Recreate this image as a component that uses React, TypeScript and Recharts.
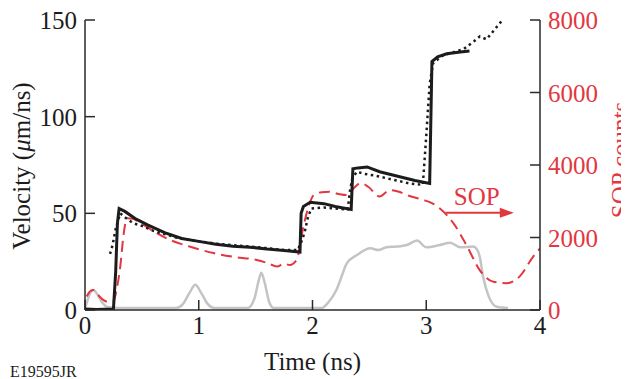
import { LineChart, Line, XAxis, YAxis, ReferenceLine } from "recharts";

const font = "'Liberation Serif', 'Times New Roman', serif";
const red = "#e2373f";
const ink = "#1c1c1c";
const frame = "#2a2a2a";
const grey = "#c4c4c4";

// time (ns) / velocity (um/ns), solid trace
const solidT = [0, 0.1, 0.25, 0.27, 0.285, 0.3, 0.35, 0.45, 0.55, 0.7, 0.85, 1.0, 1.15, 1.3, 1.45, 1.6, 1.75, 1.89, 1.9, 1.92, 1.98, 2.1, 2.2, 2.34, 2.355, 2.4, 2.48, 2.59, 2.74, 2.9, 3.03, 3.05, 3.1, 3.18, 3.3, 3.38];
const solidV = [0.5, 0.3, 0.5, 20, 45, 52.5, 51, 47, 44, 40, 37, 35.5, 34, 33, 32.5, 31.5, 30.8, 30, 50, 53.5, 55.7, 55, 53.5, 52, 73, 73.5, 74, 71.5, 69.3, 67, 65.5, 128.5, 131, 132.5, 133.5, 134];

// dotted trace
const dotT = [0.22, 0.24, 0.27, 0.31, 0.35, 0.42, 0.5, 0.6, 0.8, 1.0, 1.2, 1.4, 1.6, 1.75, 1.87, 1.9, 1.93, 1.96, 1.99, 2.1, 2.2, 2.31, 2.33, 2.35, 2.39, 2.45, 2.55, 2.7, 2.85, 2.97, 3.0, 3.03, 3.06, 3.14, 3.25, 3.33, 3.42, 3.47, 3.53, 3.6, 3.67];
const dotV = [29, 33, 42, 50, 48, 45, 43.5, 41, 37.5, 35.5, 34, 33, 32, 31, 31, 35, 40, 48, 52.5, 53, 52.5, 52, 62, 68, 71.5, 70.5, 69.5, 67.5, 65.5, 64.7, 90, 117, 127.6, 131.5, 133.5, 135, 139, 141.5, 140, 145, 150];

// SOP counts (right axis)
const sopT = [0.015, 0.04, 0.07, 0.11, 0.16, 0.21, 0.25, 0.28, 0.31, 0.34, 0.37, 0.42, 0.47, 0.55, 0.63, 0.75, 0.92, 1.13, 1.3, 1.51, 1.6, 1.69, 1.75, 1.8, 1.86, 1.92, 1.97, 2.01, 2.08, 2.15, 2.23, 2.3, 2.36, 2.42, 2.49, 2.59, 2.68, 2.76, 2.83, 2.97, 3.05, 3.12, 3.24, 3.36, 3.47, 3.59, 3.71, 3.82, 3.94, 4.0];
const sopV = [370, 500, 555, 430, 280, 220, 240, 600, 1200, 2100, 2530, 2520, 2440, 2280, 2120, 1930, 1750, 1570, 1470, 1380, 1300, 1200, 1280, 1240, 1380, 2300, 2900, 3170, 3250, 3260, 3200, 3170, 3350, 3500, 3400, 3130, 3310, 3260, 3170, 3040, 2950, 2800, 2390, 1750, 1100, 780, 740, 920, 1470, 1700];

// laser pulse shape (grey, left axis units)
const pulseT = [0, 0.015, 0.04, 0.073, 0.11, 0.15, 0.2, 0.3, 0.8, 0.86, 0.92, 0.97, 1.02, 1.08, 1.14, 1.43, 1.49, 1.53, 1.55, 1.58, 1.62, 1.66, 2.08, 2.14, 2.21, 2.26, 2.3, 2.39, 2.51, 2.58, 2.65, 2.74, 2.83, 2.92, 3.0, 3.12, 3.21, 3.3, 3.41, 3.45, 3.47, 3.5, 3.55, 3.62, 3.72];
const pulseV = [1, 3.6, 8, 10.3, 8, 4, 1.5, 1, 1, 3, 9, 13, 9, 3, 1, 1, 6, 16, 19.3, 14, 4, 1, 1, 4, 10.3, 18, 24, 28.4, 31.9, 31, 32.5, 32.8, 33.6, 35.9, 32.4, 33.6, 34.8, 32.4, 32.8, 31, 27.6, 17.2, 6.9, 1.7, 1];

const timeTicks = [0, 1, 2, 3, 4];
const velTicks = [0, 50, 100, 150];
const sopTicks = [0, 2000, 4000, 6000, 8000];

const rows = (ts: number[], vs: number[]) => ts.map((t, i) => ({ t, v: vs[i] }));

const LeftTick = ({ x, y, payload }: any) => (
  <g>
    <line x1={x + 8} x2={x + 18} y1={y} y2={y} stroke={frame} strokeWidth={1.5} />
    <text x={x} y={y + 9} textAnchor="end" fontSize={25} fontFamily={font} fill={ink}>{payload.value}</text>
  </g>
);

const RightTick = ({ x, y, payload }: any) => (
  <g>
    <line x1={x - 8} x2={x - 18} y1={y} y2={y} stroke={frame} strokeWidth={1.5} />
    <text x={x} y={y + 9} textAnchor="start" fontSize={25} fontFamily={font} fill={red}>{payload.value}</text>
  </g>
);

const BottomTick = ({ x, y, payload }: any) => (
  <g>
    <line x1={x} x2={x} y1={y - 8} y2={y - 18} stroke={frame} strokeWidth={1.5} />
    <text x={x} y={y + 16} textAnchor="middle" fontSize={25} fontFamily={font} fill={ink}>{payload.value}</text>
  </g>
);

const TopTick = ({ x, y }: any) => (
  <line x1={x} x2={x} y1={y} y2={y + 10} stroke={frame} strokeWidth={1.5} />
);

const VelocityTitle = ({ viewBox }: any) => {
  const cx = viewBox.x + 5;
  const cy = viewBox.y + viewBox.height / 2 + 1;
  return (
    <text transform={`translate(${cx},${cy}) rotate(-90)`} textAnchor="middle" fontSize={25} fontFamily={font} fill={ink}>
      Velocity (<tspan fontStyle="italic">μ</tspan>m/ns)
    </text>
  );
};

const SopTitle = ({ viewBox }: any) => {
  const cx = viewBox.x + viewBox.width;
  const cy = viewBox.y + viewBox.height / 2 - 5;
  return (
    <text transform={`translate(${cx},${cy}) rotate(-90)`} textAnchor="middle" fontSize={25} fontFamily={font} fill={red}>
      SOP counts
    </text>
  );
};

const TimeTitle = ({ viewBox }: any) => (
  <g>
    <text x={viewBox.x + viewBox.width / 2} y={viewBox.y + 60} textAnchor="middle" fontSize={25} fontFamily={font} fill={ink}>
      Time (ns)
    </text>
    <text x={2} y={viewBox.y + 67} fontSize={16} fontFamily={font} fill={ink}>E19595JR</text>
  </g>
);

const SopArrow = ({ x1, y1, x2, y2 }: any) => (
  <g>
    <line x1={x1} y1={y1} x2={x2 - 10} y2={y2} stroke={red} strokeWidth={2} />
    <polygon points={`${x2},${y2} ${x2 - 14},${y2 - 5} ${x2 - 14},${y2 + 5}`} fill={red} />
    <text x={(x1 + x2) / 2 - 3} y={y1 - 8} textAnchor="middle" fontSize={25} fontFamily={font} fill={red}>SOP</text>
  </g>
);

export default function App() {
  return (
    <LineChart width={621} height={371} margin={{ top: 12, right: 0, bottom: 0, left: 17 }}>
      <XAxis
        type="number" dataKey="t" domain={[0, 4]} ticks={timeTicks} allowDataOverflow
        height={69} tickSize={0} tickMargin={8} tickLine={false}
        axisLine={{ stroke: frame, strokeWidth: 1.5 }}
        tick={(p: any) => <BottomTick {...p} />}
        label={{ content: (p: any) => <TimeTitle {...p} /> }}
      />
      <XAxis
        xAxisId="top" orientation="top" type="number" dataKey="t" domain={[0, 4]} ticks={[1, 2, 3]}
        height={0} tickSize={0} tickMargin={0} tickLine={false}
        axisLine={{ stroke: frame, strokeWidth: 1.5 }}
        tick={(p: any) => <TopTick {...p} />}
      />
      <YAxis
        yAxisId="left" type="number" domain={[0, 150]} ticks={velTicks} allowDataOverflow
        width={60} tickSize={0} tickMargin={8} tickLine={false}
        axisLine={{ stroke: frame, strokeWidth: 1.5 }}
        tick={(p: any) => <LeftTick {...p} />}
        label={{ content: (p: any) => <VelocityTitle {...p} /> }}
      />
      <YAxis
        yAxisId="right" orientation="right" type="number" domain={[0, 8000]} ticks={sopTicks} allowDataOverflow
        width={89} tickSize={0} tickMargin={8} tickLine={false}
        axisLine={{ stroke: frame, strokeWidth: 1.5 }}
        tick={(p: any) => <RightTick {...p} />}
        label={{ content: (p: any) => <SopTitle {...p} /> }}
      />
      <Line data={rows(pulseT, pulseV)} yAxisId="left" dataKey="v" type="monotone" stroke={grey} strokeWidth={2.5} dot={false} isAnimationActive={false} />
      <Line data={rows(sopT, sopV)} yAxisId="right" dataKey="v" type="monotone" stroke={red} strokeWidth={2} strokeDasharray="11 6" dot={false} isAnimationActive={false} />
      <Line data={rows(dotT, dotV)} yAxisId="left" dataKey="v" type="linear" stroke={ink} strokeWidth={2.5} strokeDasharray="2.5 3.5" dot={false} isAnimationActive={false} />
      <Line data={rows(solidT, solidV)} yAxisId="left" dataKey="v" type="linear" stroke={ink} strokeWidth={3} dot={false} isAnimationActive={false} />
      <ReferenceLine
        yAxisId="right"
        segment={[{ x: 3.17, y: 2680 }, { x: 3.77, y: 2680 }]}
        shape={(p: any) => <SopArrow {...p} />}
      />
    </LineChart>
  );
}
